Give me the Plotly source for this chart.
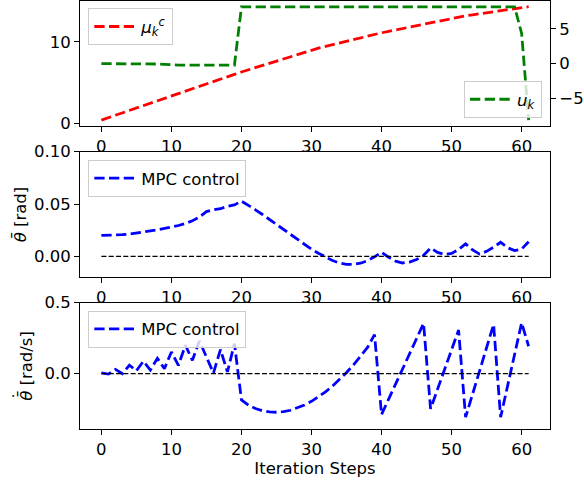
import plotly.graph_objects as go

steps = list(range(62))

mu_c = [0.40, 0.70, 0.99, 1.29, 1.58, 1.88, 2.17, 2.47, 2.76, 3.06,
        3.35, 3.65, 3.94, 4.24, 4.53, 4.83, 5.12, 5.42, 5.71, 6.01,
        6.30, 6.57, 6.84, 7.11, 7.38, 7.65, 7.92, 8.19, 8.46, 8.73,
        9.00, 9.22, 9.43, 9.65, 9.86, 10.07, 10.28, 10.49, 10.70, 10.90,
        11.10, 11.28, 11.46, 11.64, 11.82, 12.00, 12.18, 12.36, 12.54, 12.72,
        12.90, 13.04, 13.18, 13.31, 13.44, 13.57, 13.70, 13.83, 13.95, 14.07,
        14.19, 14.30]

u_k = [0.0, 0.0, 0.0, 0.02, 0.05, 0.03, -0.02, 0.0, -0.05, -0.10,
       -0.20, -0.22, -0.22, -0.22, -0.22, -0.22, -0.22, -0.22, -0.22, -0.20,
       8.15, 8.15, 8.15, 8.15, 8.15, 8.15, 8.15, 8.15, 8.15, 8.15,
       8.15, 8.15, 8.15, 8.15, 8.15, 8.15, 8.15, 8.15, 8.15, 8.15,
       8.15, 8.15, 8.15, 8.15, 8.15, 8.15, 8.15, 8.15, 8.15, 8.15,
       8.15, 8.15, 8.15, 8.15, 8.15, 8.15, 8.15, 8.15, 8.15, 8.15,
       4.35, -8.10]

theta_bar = [0.0200, 0.0201, 0.0203, 0.0207, 0.0213, 0.0222, 0.0232, 0.0243, 0.0255, 0.0267,
             0.0280, 0.0295, 0.0315, 0.0340, 0.0375, 0.0428, 0.0445, 0.0455, 0.0478, 0.0492,
             0.0528, 0.0490, 0.0445, 0.0400, 0.0352, 0.0303, 0.0255, 0.0205, 0.0157, 0.0110,
             0.0068, 0.0030, -0.0008, -0.0040, -0.0063, -0.0076, -0.0077, -0.0065, -0.0040, -0.0005,
             0.0040, -0.0008, -0.0045, -0.0063, -0.0055, -0.0030, 0.0010, 0.0080, 0.0038, 0.0018,
             0.0028, 0.0065, 0.0120, 0.0062, 0.0022, 0.0048, 0.0088, 0.0135, 0.0082, 0.0055,
             0.0070, 0.0140]

theta_dot = [0.005, -0.003, 0.030, 0.000, 0.060, 0.020, 0.088, 0.025, 0.108, 0.035,
             0.153, 0.058, 0.200, 0.094, 0.231, 0.118, 0.004, 0.170, 0.012, 0.212,
             -0.185, -0.222, -0.246, -0.262, -0.270, -0.272, -0.268, -0.258, -0.242, -0.221,
             -0.195, -0.164, -0.128, -0.087, -0.042, 0.008, 0.062, 0.120, 0.185, 0.275,
             -0.288, -0.181, -0.074, 0.033, 0.140, 0.247, 0.354, -0.248, -0.109, 0.030,
             0.168, 0.307, -0.307, -0.144, 0.020, 0.183, 0.347, -0.307, -0.085, 0.137,
             0.358, 0.193]

reference = [0.0] * len(steps)

x_ticks = [0, 10, 20, 30, 40, 50, 60]

FONT = "DejaVu Sans"
FS = 16.5
LW = 2.78
DASH = "10.3px,4.4px"

fig = go.Figure()

fig.add_trace(go.Scatter(x=steps, y=mu_c, mode="lines", xaxis="x", yaxis="y",
                         line=dict(color="#ff0000", width=LW, dash=DASH),
                         name="<i>μ</i><sub><i>k</i></sub><sup><i>c</i></sup>", legend="legend"))
fig.add_trace(go.Scatter(x=steps, y=u_k, mode="lines", xaxis="x", yaxis="y2",
                         line=dict(color="#008000", width=LW, dash=DASH),
                         name="<i>u</i><sub><i>k</i></sub>", legend="legend2"))

fig.add_trace(go.Scatter(x=steps, y=theta_bar, mode="lines", xaxis="x2", yaxis="y3",
                         line=dict(color="#0000ff", width=LW, dash=DASH),
                         name="MPC control", legend="legend3"))
fig.add_trace(go.Scatter(x=steps, y=reference, mode="lines", xaxis="x2", yaxis="y3",
                         line=dict(color="black", width=1.39, dash="5.1px,2.2px"),
                         showlegend=False, hoverinfo="skip"))

fig.add_trace(go.Scatter(x=steps, y=theta_dot, mode="lines", xaxis="x3", yaxis="y4",
                         line=dict(color="#0000ff", width=LW, dash=DASH),
                         name="MPC control", legend="legend4"))
fig.add_trace(go.Scatter(x=steps, y=reference, mode="lines", xaxis="x3", yaxis="y4",
                         line=dict(color="black", width=1.39, dash="5.1px,2.2px"),
                         showlegend=False, hoverinfo="skip"))

axis_common = dict(showline=True, linecolor="black", linewidth=1.1, mirror=True,
                   ticks="outside", ticklen=5, tickwidth=1.1, tickcolor="black",
                   showgrid=False, zeroline=False, automargin=False,
                   tickfont=dict(family=FONT, size=FS, color="black"))

xr = [-3.05, 64.05]
d1 = [0.7079, 1.0]
d2 = [0.3544, 0.6479]
d3 = [0.0, 0.2951]

legend_style = dict(bgcolor="rgba(255,255,255,0.8)", bordercolor="#cccccc", borderwidth=1,
                    itemwidth=42,
                    font=dict(family=FONT, size=FS, color="black"))

# y label of the bottom panel drawn as annotations (theta with bar and dot)
lab_x = (27 - 80) / 470
lab_y = sum(d3) / 2
dot_x = (19 - 80) / 470
dot_y = 1 - (396 - 1) / 428

fig.update_layout(
    width=584, height=482,
    margin=dict(l=80, r=34, t=1, b=53, autoexpand=False),
    paper_bgcolor="white", plot_bgcolor="white",
    font=dict(family=FONT, size=FS, color="black"),
    xaxis=dict(domain=[0, 1], anchor="y", range=xr, tickvals=x_ticks, **axis_common),
    yaxis=dict(domain=d1, anchor="x", range=[-0.33, 15.0], tickvals=[0, 10], **axis_common),
    yaxis2=dict(overlaying="y", side="right", anchor="x", range=[-8.96, 9.0],
                tickvals=[-5, 0, 5], **axis_common),
    xaxis2=dict(domain=[0, 1], anchor="y3", range=xr, tickvals=x_ticks, **axis_common),
    yaxis3=dict(domain=d2, anchor="x2", range=[-0.02, 0.10], tickvals=[0, 0.05, 0.10],
                tickformat=".2f",
                title=dict(text="<i>θ̄</i> [rad]", standoff=3,
                           font=dict(family=FONT, size=FS, color="black")),
                **axis_common),
    xaxis3=dict(domain=[0, 1], anchor="y4", range=xr, tickvals=x_ticks,
                title=dict(text="Iteration Steps", standoff=4,
                           font=dict(family=FONT, size=FS, color="black")),
                **axis_common),
    yaxis4=dict(domain=d3, anchor="x3", range=[-0.39, 0.5], tickvals=[0, 0.5],
                tickformat=".1f", **axis_common),
    legend=dict(x=0.0177, y=0.983, xanchor="left", yanchor="top", **legend_style),
    legend2=dict(x=0.983, y=0.7266, xanchor="right", yanchor="bottom", **legend_style),
    legend3=dict(x=0.0177, y=0.6285, xanchor="left", yanchor="top", **legend_style),
    legend4=dict(x=0.0177, y=0.2764, xanchor="left", yanchor="top", **legend_style),
    annotations=[
        dict(text="<i>θ̄</i> [rad/s]", xref="paper", yref="paper", x=lab_x, y=lab_y,
             xanchor="center", yanchor="middle", textangle=-90, showarrow=False,
             font=dict(family=FONT, size=FS, color="black")),
        dict(text="˙", xref="paper", yref="paper", x=dot_x, y=dot_y,
             xanchor="center", yanchor="middle", textangle=-90, showarrow=False,
             font=dict(family=FONT, size=FS, color="black")),
    ],
)

fig.write_html("out.html", config={"displayModeBar": False},
               post_script="document.body.style.margin='0';document.body.style.overflow='hidden';")
